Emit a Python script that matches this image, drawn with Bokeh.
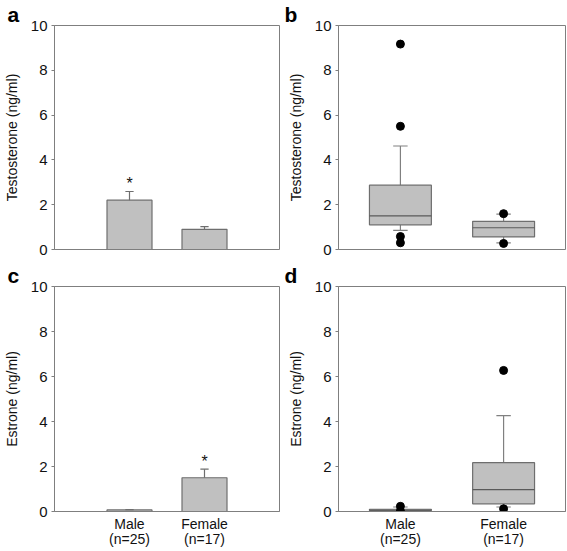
from bokeh.plotting import figure
from bokeh.models import Range1d, FixedTicker, Title
from bokeh.layouts import column, row
from bokeh.embed import file_html
from bokeh.resources import INLINE

# ---------------- data ----------------
group_pos = [1, 2]
group_labels = ["Male\n(n=25)", "Female\n(n=17)"]
y_ticks = [0, 2, 4, 6, 8, 10]

# panel a: testosterone, mean and SE
testo_mean = [2.2, 0.9]
testo_err = [0.39, 0.12]
testo_sig = ["*", ""]

# panel c: estrone, mean and SE
estro_mean = [0.07, 1.5]
estro_err = [0.01, 0.38]
estro_sig = ["", "*"]

# panel b: testosterone box plot statistics (male, female)
testo_low = [0.85, 0.30]
testo_q1 = [1.10, 0.56]
testo_med = [1.50, 0.97]
testo_q3 = [2.87, 1.26]
testo_high = [4.62, 1.58]
testo_out_male = [9.17, 5.50, 0.58, 0.30]
testo_out_female = [1.60, 0.27]

# panel d: estrone box plot statistics (male, female)
estro_low = [0.02, 0.20]
estro_q1 = [0.04, 0.34]
estro_med = [0.06, 0.97]
estro_q3 = [0.10, 2.17]
estro_high = [0.20, 4.26]
estro_out_male = [0.23, 0.02]
estro_out_female = [6.27, 0.12]

# ---------------- styles ----------------
FONT = "Liberation Sans"
FRAME = "#7f7f7f"
FILL = "#c0c0c0"
BARLINE = "#6e6e6e"
WHISK = "#808080"
MEDIAN = "#5a5a5a"
TXT = "#111111"


def make_fig(width, height, xr, left, right, top, bottom, ylabel, show_x, letter):
    p = figure(width=width, height=height, x_range=Range1d(*xr), y_range=Range1d(0, 10),
               output_backend="svg", toolbar_location=None, tools="",
               min_border_left=left, min_border_right=right, min_border_top=top,
               min_border_bottom=bottom)
    p.grid.visible = False
    p.outline_line_color = FRAME
    p.outline_line_width = 1
    p.background_fill_color = "white"
    p.border_fill_color = "white"
    ya = p.yaxis[0]
    ya.ticker = FixedTicker(ticks=y_ticks)
    ya.axis_label = ylabel
    ya.axis_label_text_font = FONT
    ya.axis_label_text_font_size = "14px"
    ya.axis_label_text_font_style = "normal"
    ya.axis_label_text_color = TXT
    ya.axis_label_standoff = 8
    ya.major_label_text_font = FONT
    ya.major_label_text_font_size = "15px"
    ya.major_label_text_color = TXT
    ya.major_label_standoff = 4
    ya.major_tick_out = 3
    ya.major_tick_in = 0
    ya.minor_tick_out = 0
    ya.minor_tick_in = 0
    ya.axis_line_color = FRAME
    ya.major_tick_line_color = FRAME
    xa = p.xaxis[0]
    if show_x:
        xa.ticker = FixedTicker(ticks=group_pos)
        xa.major_label_overrides = {pos: lab for pos, lab in zip(group_pos, group_labels)}
        xa.major_label_text_font = FONT
        xa.major_label_text_font_size = "14px"
        xa.major_label_text_color = TXT
        xa.major_label_text_line_height = 0.95
        xa.major_label_standoff = 4
        xa.major_tick_out = 0
        xa.major_tick_in = 0
        xa.minor_tick_out = 0
        xa.minor_tick_in = 0
        xa.axis_line_color = FRAME
    else:
        xa.visible = False
    t = Title(text=letter, align="left", offset=-(left - 2), standoff=0,
              text_font=FONT, text_font_size="21px", text_font_style="bold",
              text_line_height=0.8, text_color="black")
    p.add_layout(t, "above")
    return p


def bar_panel(p, means, errs, sig):
    tops = [m + e for m, e in zip(means, errs)]
    p.vbar(x=group_pos, bottom=0, top=means, width=0.6, fill_color=FILL,
           line_color=BARLINE, line_width=1.2)
    p.segment(x0=group_pos, y0=means, x1=group_pos, y1=tops, line_color=BARLINE, line_width=1.2)
    p.segment(x0=[x - 0.055 for x in group_pos], y0=tops, x1=[x + 0.055 for x in group_pos],
              y1=tops, line_color=BARLINE, line_width=1.2)
    p.text(x=group_pos, y=tops, text=sig, text_align="center", text_baseline="alphabetic",
           y_offset=-8, text_font_size="16px", text_color=TXT)


def box_panel(p, low, q1, med, q3, high, out_m, out_f):
    p.segment(x0=group_pos, y0=q3, x1=group_pos, y1=high, line_color=WHISK, line_width=1.2)
    p.segment(x0=group_pos, y0=q1, x1=group_pos, y1=low, line_color=WHISK, line_width=1.2)
    p.segment(x0=[x - 0.07 for x in group_pos], y0=high, x1=[x + 0.07 for x in group_pos],
              y1=high, line_color=WHISK, line_width=1.2)
    p.segment(x0=[x - 0.07 for x in group_pos], y0=low, x1=[x + 0.07 for x in group_pos],
              y1=low, line_color=WHISK, line_width=1.2)
    p.vbar(x=group_pos, bottom=q1, top=q3, width=0.6, fill_color=FILL,
           line_color=BARLINE, line_width=1.2)
    p.segment(x0=[x - 0.3 for x in group_pos], y0=med, x1=[x + 0.3 for x in group_pos],
              y1=med, line_color=MEDIAN, line_width=1.2)
    xs = [group_pos[0]] * len(out_m) + [group_pos[1]] * len(out_f)
    ys = list(out_m) + list(out_f)
    p.scatter(x=xs, y=ys, size=8, fill_color="black", line_color="black")


fa = make_fig(282, 258, (0, 3), 49, 3, 23, 9, "Testosterone (ng/ml)", False, "a")
bar_panel(fa, testo_mean, testo_err, testo_sig)

fb = make_fig(284, 258, (0.4, 2.6), 56, 1, 23, 9, "Testosterone (ng/ml)", False, "b")
box_panel(fb, testo_low, testo_q1, testo_med, testo_q3, testo_high, testo_out_male, testo_out_female)

fc = make_fig(282, 291, (0, 3), 49, 3, 28, 36, "Estrone (ng/ml)", True, "c")
bar_panel(fc, estro_mean, estro_err, estro_sig)

fd = make_fig(284, 291, (0.4, 2.6), 56, 1, 28, 36, "Estrone (ng/ml)", True, "d")
box_panel(fd, estro_low, estro_q1, estro_med, estro_q3, estro_high, estro_out_male, estro_out_female)

layout = column(row(fa, fb), row(fc, fd))
open("out.html", "w").write(file_html(layout, INLINE))
